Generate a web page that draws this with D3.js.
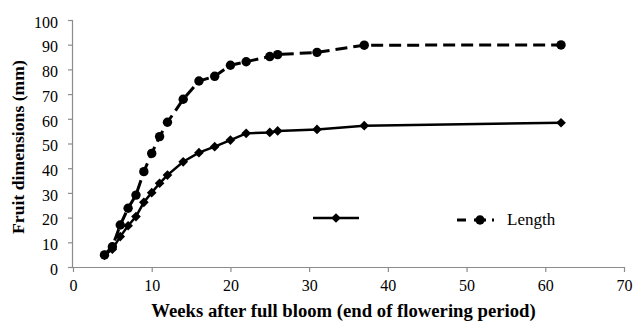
<!DOCTYPE html>
<html><head><meta charset="utf-8">
<script src="https://cdn.jsdelivr.net/npm/d3@7"></script>
<style>body{margin:0;background:#fff}svg{display:block}text{font-family:"Liberation Serif","DejaVu Serif",serif}</style>
</head><body>
<svg id="c" width="635" height="322"></svg>
<script>
const weeks = [4,5,6,7,8,9,10,11,12,14,16,18,20,22,25,26,31,37,62];
const widthVals = [4.7,7.2,12.3,16.7,20.4,26.2,30.1,33.9,37.2,42.6,46.3,48.7,51.4,54.1,54.5,55.1,55.7,57.2,58.4];
const lengthVals = [4.9,8.2,17,23.8,29.1,38.6,46,52.8,58.6,67.9,75.3,77.2,81.7,83.1,85.2,86,86.9,89.8,89.9];
const xTicks = [0,10,20,30,40,50,60,70];
const yTicks = [0,10,20,30,40,50,60,70,80,90,100];
const seriesNames = ["", "Length"];

const svg = d3.select("#c");
const m = {l:73, r:624, t:20, b:267};
const x = d3.scaleLinear().domain([0,70]).range([m.l, m.r]);
const y = d3.scaleLinear().domain([0,100]).range([m.b, m.t]);

const gx = svg.append("g").attr("transform",`translate(0,${m.b})`)
  .call(d3.axisBottom(x).tickValues(xTicks).tickSize(5).tickPadding(8));
const gy = svg.append("g").attr("transform",`translate(${m.l},0)`)
  .call(d3.axisLeft(y).tickValues(yTicks).tickSize(5).tickPadding(10));
[gx,gy].forEach(g=>{
  g.attr("font-family",null);
  g.selectAll("path,line").attr("stroke","#8c8c8c").attr("stroke-width",1.2);
  g.selectAll("text").attr("font-size",16).attr("fill","#000");
});
gy.selectAll("text").attr("dy","0.45em");
gx.select(".domain").attr("d",`M${m.l},0.5H${m.r}`);
gy.select(".domain").attr("d",`M-0.5,${m.t}V${m.b}`);

const line = d3.line().x(d=>x(d[0])).y(d=>y(d[1]));
const wData = weeks.map((w,i)=>[w,widthVals[i]]);
const lData = weeks.map((w,i)=>[w,lengthVals[i]]);

svg.append("path").datum(lData).attr("d",line).attr("fill","none")
  .attr("stroke","#000").attr("stroke-width",3).attr("stroke-dasharray","12,6");
svg.append("path").datum(wData).attr("d",line).attr("fill","none")
  .attr("stroke","#000").attr("stroke-width",2.5);

const diamond = d3.symbol().type(d3.symbolDiamond2).size(60);
svg.append("g").selectAll("path").data(wData).join("path")
  .attr("d",diamond).attr("transform",d=>`translate(${x(d[0])},${y(d[1])})`)
  .attr("fill","#000");
svg.append("g").selectAll("circle").data(lData).join("circle")
  .attr("cx",d=>x(d[0])).attr("cy",d=>y(d[1])).attr("r",4.7).attr("fill","#000");

// legend
const lg = svg.append("g");
lg.append("line").attr("x1",313).attr("x2",359).attr("y1",218).attr("y2",218)
  .attr("stroke","#000").attr("stroke-width",2.5);
lg.append("path").attr("d",diamond).attr("transform","translate(336,218)").attr("fill","#000");
lg.append("text").attr("x",366).attr("y",223).attr("font-size",17).text(seriesNames[0]);
lg.append("line").attr("x1",457).attr("x2",503).attr("y1",220).attr("y2",220)
  .attr("stroke","#000").attr("stroke-width",3).attr("stroke-dasharray","9,8,12,6,2,50");
lg.append("circle").attr("cx",480).attr("cy",220).attr("r",4.7).attr("fill","#000");
lg.append("text").attr("x",507).attr("y",225).attr("font-size",17).text(seriesNames[1]);

svg.append("text").attr("x",343.5).attr("y",317).attr("text-anchor","middle")
  .attr("font-size",18.7).attr("font-weight","bold")
  .text("Weeks after full bloom (end of flowering period)");
svg.append("text").attr("transform","translate(24,147) rotate(-90)").attr("text-anchor","middle")
  .attr("font-size",17.7).attr("font-weight","bold")
  .text("Fruit dimensions (mm)");
</script>
</body></html>
